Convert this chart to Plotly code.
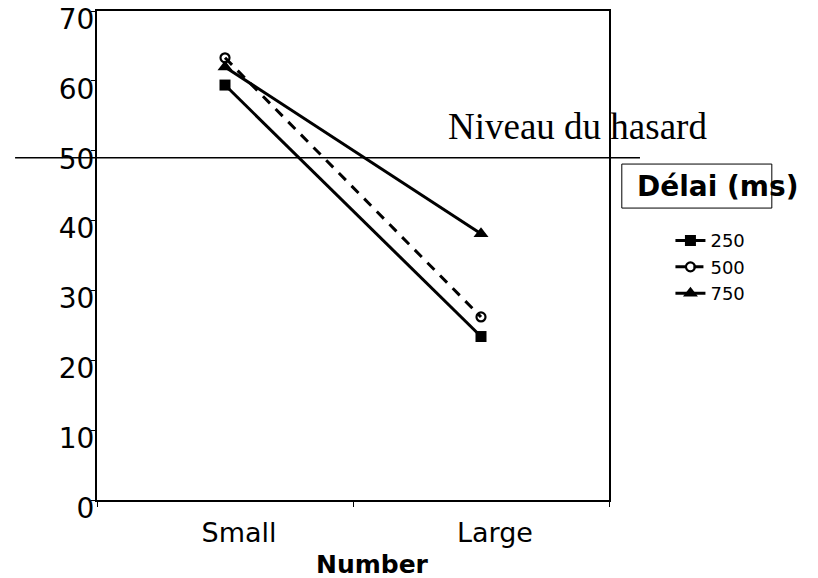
import plotly.graph_objects as go

# Categories on the x axis and mean percentage per delay condition
categories = ["Small", "Large"]
delays = ["250", "500", "750"]
pct_250 = [59.4, 23.4]
pct_500 = [63.3, 26.2]
pct_750 = [62.0, 38.1]
chance_level = 49.0
y_ticks = [0, 10, 20, 30, 40, 50, 60, 70]

series = [
    (delays[0], pct_250, dict(symbol="square", size=11, color="black"), dict(color="black", width=3)),
    (delays[1], pct_500, dict(symbol="circle-open", size=9, color="black", line=dict(width=2.2, color="black")),
     dict(color="black", width=3, dash="10px,8px")),
    (delays[2], pct_750, dict(symbol="triangle-up", size=13, color="black"), dict(color="black", width=3)),
]

fig = go.Figure()
for name, vals, marker, line in series:
    fig.add_trace(go.Scatter(
        x=categories, y=vals, name=name, mode="lines+markers",
        marker=marker, line=line, hoverinfo="skip",
    ))

FONT = "DejaVu Sans"

fig.update_layout(
    width=818, height=578,
    margin=dict(l=97, r=209, t=11, b=78, autoexpand=False),
    paper_bgcolor="white", plot_bgcolor="white",
    font=dict(family=FONT, color="black", size=27),
    showlegend=True,
    legend=dict(
        x=1.12, xanchor="left", xref="paper",
        y=0.568, yanchor="top",
        font=dict(family=FONT, size=18, color="black"),
        bgcolor="rgba(0,0,0,0)", borderwidth=0,
        tracegroupgap=0, itemwidth=30,
    ),
    xaxis=dict(
        type="category", range=[-0.5, 1.5], automargin=False,
        showline=True, linecolor="black", linewidth=2, mirror=True,
        showgrid=False, zeroline=False,
        ticks="outside", tickson="boundaries", ticklen=5, tickwidth=1, tickcolor="black",
        tickfont=dict(family=FONT, size=27, color="black"),
        ticklabelshift=14, ticklabelstandoff=8,
    ),
    yaxis=dict(
        range=[0, 70], tickvals=y_ticks, automargin=False,
        showline=True, linecolor="black", linewidth=2, mirror=True,
        showgrid=False, zeroline=False,
        ticks="outside", ticklen=4, tickwidth=1, tickcolor="black",
        tickfont=dict(family=FONT, size=28, color="black"),
        ticklabelshift=8, ticklabelstandoff=-9,
    ),
    shapes=[
        # chance-level reference line, running past both sides of the frame
        dict(type="line", xref="paper", yref="y", x0=-0.160, x1=1.0605,
             y0=chance_level, y1=chance_level, line=dict(color="black", width=1.6), layer="above"),
        # frame around the legend heading
        dict(type="rect", xref="paper", yref="paper", x0=1.025, x1=1.318,
             y0=0.597, y1=0.687, line=dict(color="black", width=1), fillcolor="rgba(0,0,0,0)"),
    ],
    annotations=[
        dict(text="Niveau du hasard", xref="paper", yref="paper", x=0.939, y=0.763,
             xanchor="center", yanchor="middle", showarrow=False,
             font=dict(family="Liberation Serif", size=37, color="black")),
        dict(text="<b>Délai (ms)</b>", xref="paper", yref="paper", x=1.05, y=0.642,
             xanchor="left", yanchor="middle", showarrow=False,
             font=dict(family=FONT, size=28, color="black")),
        dict(text="<b>Number</b>", xref="paper", yref="paper", x=0.539, y=-0.099,
             xanchor="center", yanchor="top", showarrow=False,
             font=dict(family=FONT, size=25, color="black")),
    ],
)

fig.write_html("out.html")
